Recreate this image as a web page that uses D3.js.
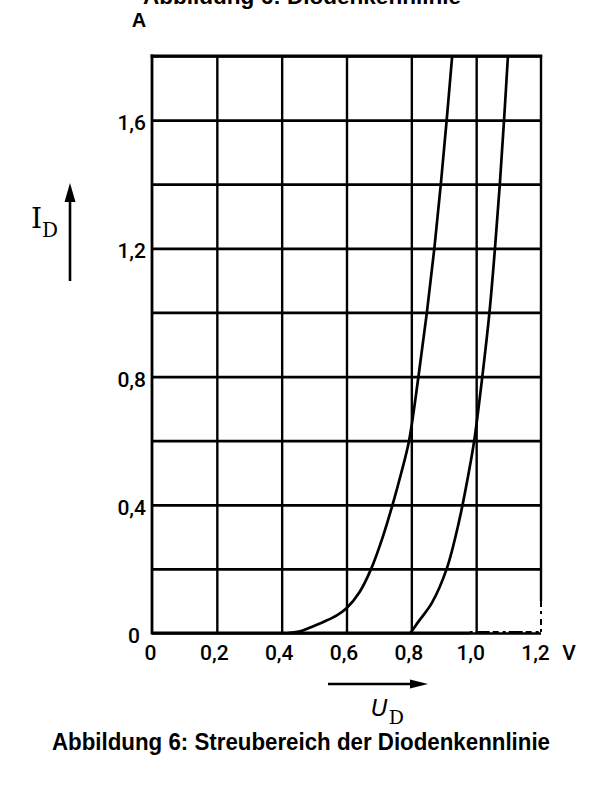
<!DOCTYPE html>
<html>
<head>
<meta charset="utf-8">
<script src="https://cdn.jsdelivr.net/npm/d3@7"></script>
<style>
  html, body { margin: 0; padding: 0; background: #fff; }
  svg { display: block; }
</style>
</head>
<body>
<svg id="chart" width="613" height="785"></svg>
<script>
// ---- data ----
const curve1U = [0.42, 0.46, 0.49, 0.53, 0.57, 0.60, 0.64, 0.676, 0.712, 0.742, 0.769, 0.793, 0.822, 0.848, 0.871, 0.891, 0.909, 0.926];
const curve1I = [0.0, 0.006, 0.018, 0.035, 0.055, 0.077, 0.127, 0.2, 0.3, 0.4, 0.5, 0.6, 0.8, 1.0, 1.2, 1.4, 1.6, 1.8];
const curve2U = [0.797, 0.80, 0.823, 0.863, 0.909, 0.948, 0.977, 0.994, 1.019, 1.041, 1.058, 1.073, 1.086, 1.098];
const curve2I = [0.0, 0.004, 0.037, 0.093, 0.2, 0.352, 0.5, 0.6, 0.8, 1.0, 1.2, 1.4, 1.6, 1.8];
const xTickValues = [0, 0.2, 0.4, 0.6, 0.8, 1.0, 1.2];
const xTickLabels = ["0", "0,2", "0,4", "0,6", "0,8", "1,0", "1,2"];
const yGridValues = [0, 0.2, 0.4, 0.6, 0.8, 1.0, 1.2, 1.4, 1.6, 1.8];
const yLabelValues = [0, 0.4, 0.8, 1.2, 1.6];
const yTickLabels = ["0", "0,4", "0,8", "1,2", "1,6"];
const titleTop = "Abbildung 6: Diodenkennlinie";
const caption = "Abbildung 6: Streubereich der Diodenkennlinie";

(function () {
// ---- layout ----
const svg = d3.select("#chart");
const pLeft = 152, pRight = 541, pTop = 56, pBottom = 633;
const x = d3.scaleLinear().domain([0, 1.2]).range([pLeft, pRight]);
const y = d3.scaleLinear().domain([0, 1.8]).range([pBottom, pTop]);
const ink = "#000";
const tickFont = "Roboto, 'DejaVu Sans', sans-serif";

svg.append("rect").attr("width", 613).attr("height", 785).attr("fill", "#fff");

// cut-off title at very top (as in the reference scan)
svg.append("text")
  .attr("x", 302).attr("y", 4)
  .attr("text-anchor", "middle")
  .attr("font-family", "'Liberation Sans', Arial, sans-serif")
  .attr("font-weight", "bold").attr("font-size", 22.5)
  .attr("textLength", 318).attr("lengthAdjust", "spacingAndGlyphs")
  .text(titleTop);

// horizontal grid via axisLeft
const yAxis = d3.axisLeft(y).tickValues(yGridValues).tickSize(-(pRight - pLeft)).tickFormat("");
const gy = svg.append("g").attr("transform", `translate(${pLeft},0)`).call(yAxis);
gy.select(".domain").remove();
gy.selectAll(".tick line").attr("stroke", ink).attr("stroke-width", 2.7);

// vertical grid + labels via axisBottom
const xAxis = d3.axisBottom(x).tickValues(xTickValues).tickSize(-(pBottom - pTop))
  .tickFormat((d, i) => xTickLabels[i]);
const gx = svg.append("g").attr("transform", `translate(0,${pBottom})`).call(xAxis);
gx.select(".domain").remove();
gx.selectAll(".tick line").attr("stroke", ink).attr("stroke-width", 2.4)
  .filter(d => d === 0 || d === 1.2).remove();
gx.selectAll(".tick text")
  .attr("y", 27).attr("dy", 0).attr("dx", (d) => d === 0 ? -2 : (d >= 1.0 ? -6 : -3))
  .attr("fill", ink)
  .attr("font-family", tickFont).attr("font-weight", 500)
  .attr("font-size", 21);

// unit V
svg.append("text").attr("x", x(1.2) + 28).attr("y", pBottom + 27)
  .attr("text-anchor", "middle").attr("font-family", tickFont).attr("font-weight", 500)
  .attr("font-size", 21).text("V");

// y labels
const gyl = svg.append("g");
gyl.selectAll("text").data(yLabelValues).join("text")
  .attr("x", (d) => d === 0 ? pLeft - 12 : pLeft - 6)
  .attr("y", (d) => y(d) + 10)
  .attr("text-anchor", "end")
  .attr("font-family", tickFont).attr("font-weight", 500)
  .attr("font-size", 21)
  .text((d, i) => yTickLabels[i]);

// frame: left, top, bottom (solid + broken part), right (solid + broken part)
const frame = svg.append("g").attr("stroke", ink).attr("fill", "none");
frame.append("line").attr("x1", x(0)).attr("x2", x(0)).attr("y1", y(1.8) - 1.4).attr("y2", y(0) + 1.4).attr("stroke-width", 2.8);
frame.append("line").attr("x1", x(0) - 1.4).attr("x2", x(1.2) + 1.2).attr("y1", y(1.8)).attr("y2", y(1.8)).attr("stroke-width", 2.8);
frame.append("line").attr("x1", x(0)).attr("x2", x(0.98)).attr("y1", y(0)).attr("y2", y(0)).attr("stroke-width", 2.8);
frame.append("line").attr("x1", x(0.98)).attr("x2", x(1.2)).attr("y1", y(0) - 1).attr("y2", y(0) - 1)
  .attr("stroke-width", 2).attr("stroke-dasharray", "3,3,14,3,6,4");
frame.append("line").attr("x1", x(1.2)).attr("x2", x(1.2)).attr("y1", y(1.8) - 1).attr("y2", y(0.1)).attr("stroke-width", 2.4);
frame.append("line").attr("x1", x(1.2)).attr("x2", x(1.2)).attr("y1", y(0.1)).attr("y2", y(0))
  .attr("stroke-width", 2).attr("stroke-dasharray", "6,4,3,5");

// characteristic curves
const line = d3.line().x(d => x(d[0])).y(d => y(d[1])).curve(d3.curveCatmullRom.alpha(0.5));
const c1 = curve1U.map((u, i) => [u, curve1I[i]]);
const c2 = curve2U.map((u, i) => [u, curve2I[i]]);
svg.append("g").selectAll("path").data([c1, c2]).join("path")
  .attr("d", line).attr("fill", "none").attr("stroke", ink).attr("stroke-width", 2.7)
  .attr("stroke-linejoin", "round");

// unit "A"
svg.append("text").attr("x", x(0) - 13).attr("y", 27)
  .attr("text-anchor", "middle")
  .attr("font-family", "'Liberation Sans', Arial, sans-serif")
  .attr("font-weight", "bold").attr("font-size", 20).text("A");

// I_D label with upward arrow
const iLab = svg.append("text").attr("x", 31).attr("y", 228)
  .attr("font-family", "'DejaVu Serif', serif").attr("font-size", 28);
iLab.append("tspan").text("I");
iLab.append("tspan").attr("dx", 0).attr("dy", 9).attr("font-size", 20).attr("font-family", "'DejaVu Serif', serif").text("D");
svg.append("line").attr("x1", 70).attr("x2", 70).attr("y1", 281).attr("y2", 198)
  .attr("stroke", ink).attr("stroke-width", 2.6);
svg.append("path").attr("d", "M70,183 L64.5,202 L75.5,202 Z").attr("fill", ink);

// U_D label with right arrow
svg.append("line").attr("x1", 328).attr("x2", 414).attr("y1", 684).attr("y2", 684)
  .attr("stroke", ink).attr("stroke-width", 2.6);
svg.append("path").attr("d", "M428,684 L410,679.5 L410,688.5 Z").attr("fill", ink);
const uLab = svg.append("text").attr("x", 371).attr("y", 716)
  .attr("font-family", "'DejaVu Sans', sans-serif").attr("font-size", 23)
  .attr("font-style", "italic");
uLab.append("tspan").text("U");
uLab.append("tspan").attr("dx", 1).attr("dy", 8).attr("font-size", 19).attr("font-style", "normal")
  .attr("font-family", "'DejaVu Serif', serif").text("D");

// caption
svg.append("text")
  .attr("x", 301).attr("y", 750)
  .attr("text-anchor", "middle")
  .attr("font-family", "'Liberation Sans', Arial, sans-serif")
  .attr("font-weight", "bold").attr("font-size", 23)
  .attr("textLength", 498).attr("lengthAdjust", "spacingAndGlyphs")
  .text(caption);
})();
</script>
</body>
</html>
